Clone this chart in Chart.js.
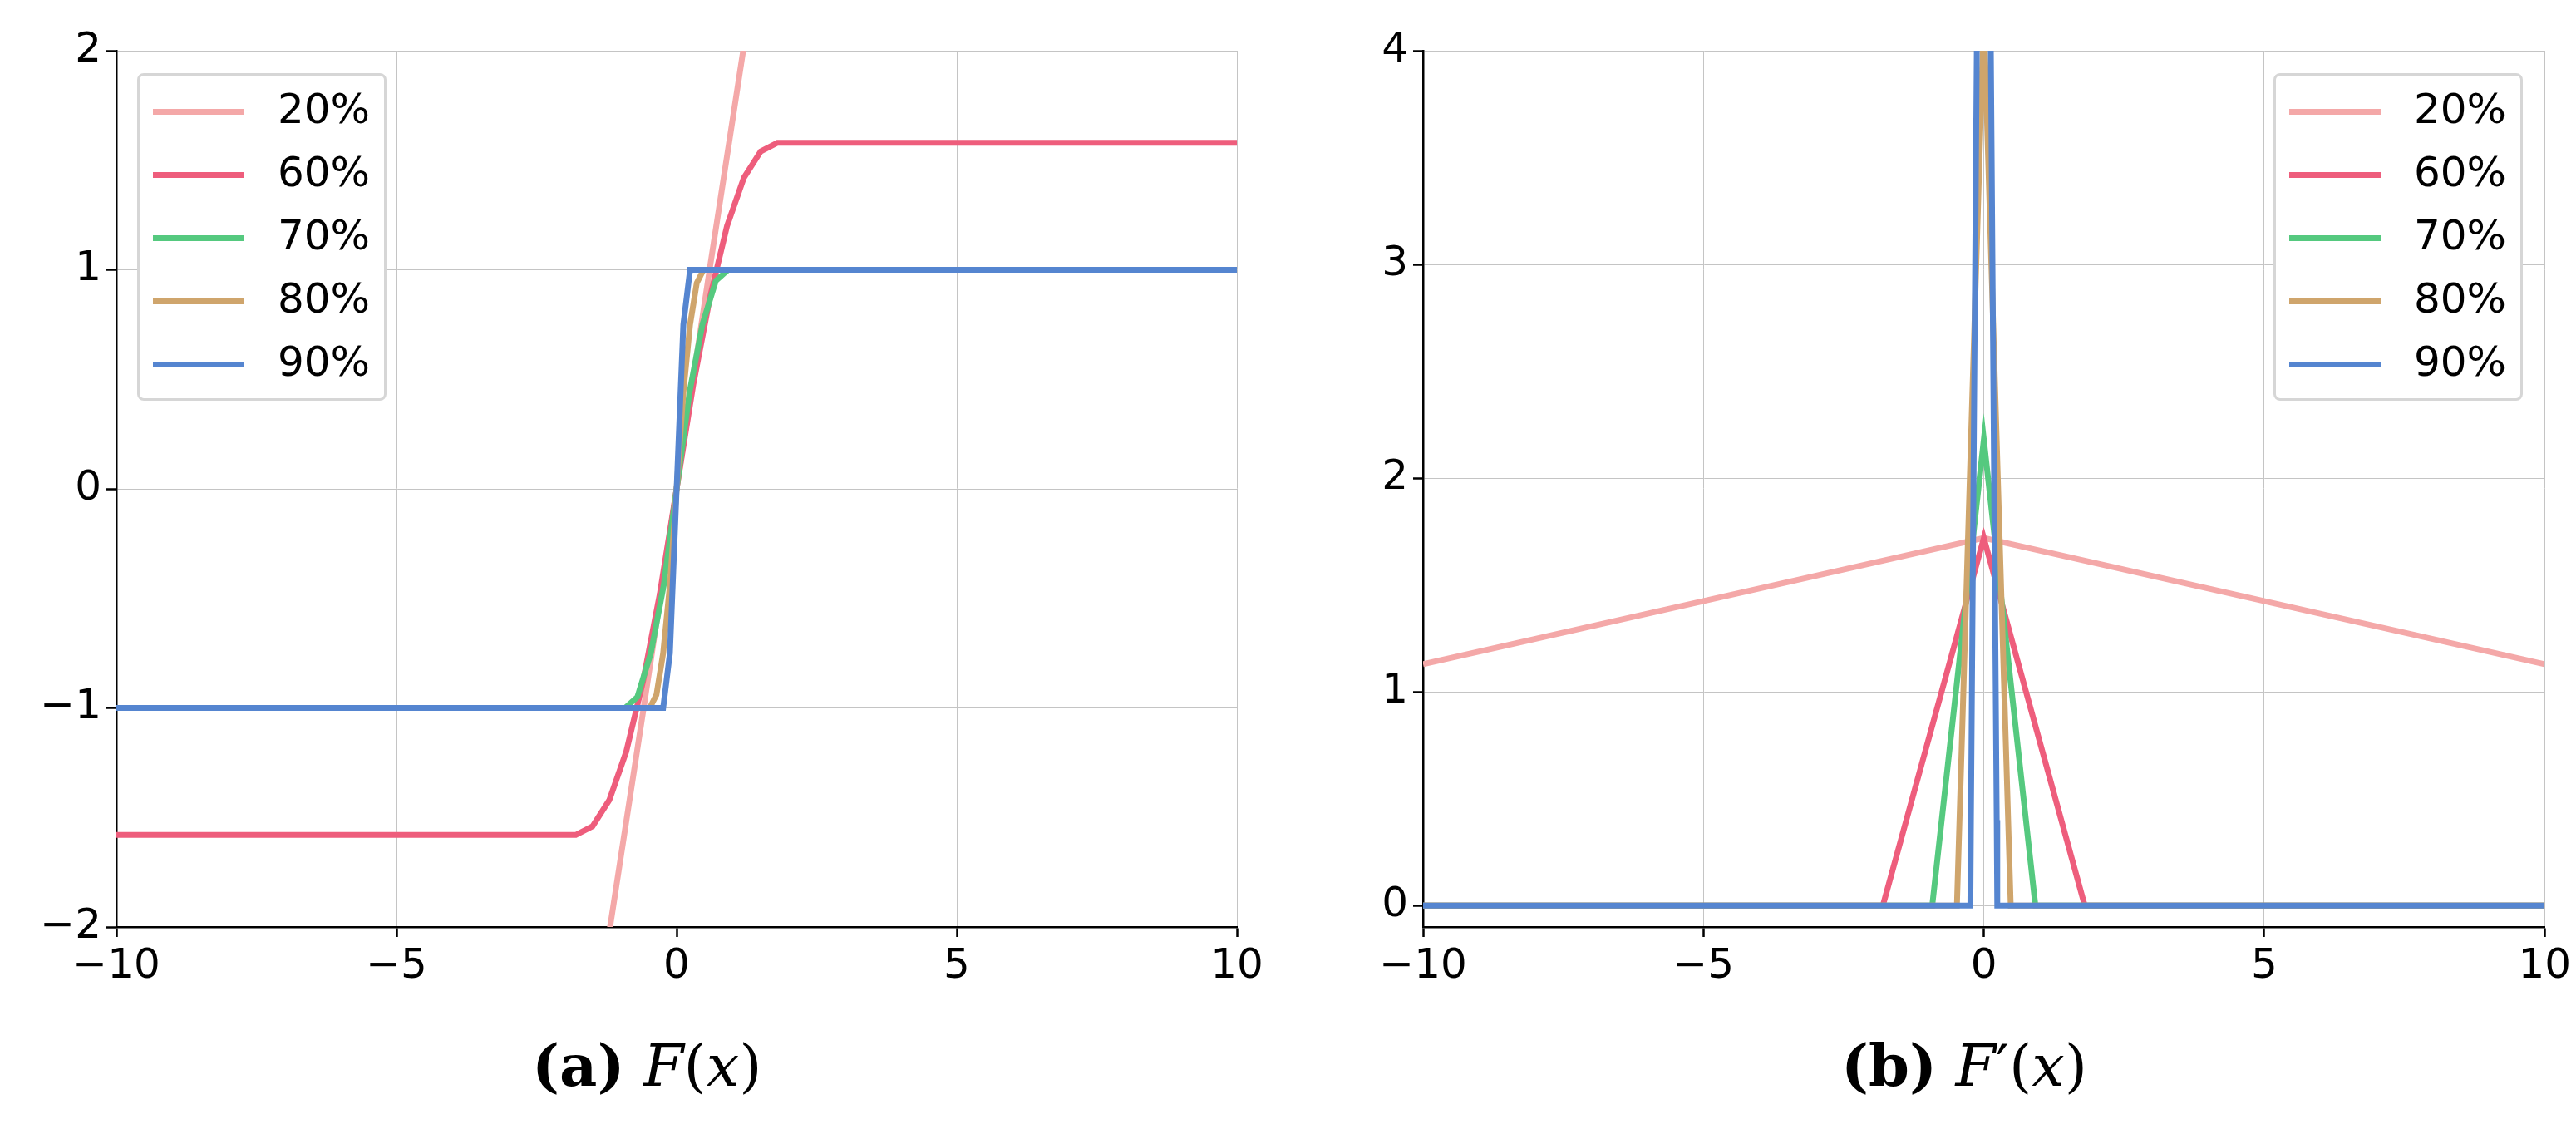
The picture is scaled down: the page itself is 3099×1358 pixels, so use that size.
<!DOCTYPE html>
<html>
<head>
<meta charset="utf-8">
<script src="https://cdn.jsdelivr.net/npm/chart.js@4.4.0/dist/chart.umd.min.js"></script>
<style>
body{margin:0;background:#fff;width:3099px;height:1358px;position:relative;overflow:hidden;font-family:"DejaVu Sans";}
.box{position:absolute;top:0;height:1200px;}
.legend{position:absolute;top:88px;width:300px;height:394px;border:3px solid #d6d6d6;border-radius:8px;background:#fff;box-sizing:border-box;}
.item{position:absolute;left:16px;height:40px;font-size:50px;line-height:40px;}
.item span{display:inline-block;width:110px;height:7px;vertical-align:middle;margin-right:40px;}
.cap{position:absolute;top:1240px;font-family:"DejaVu Serif","Liberation Serif";font-size:70px;}
</style>
</head>
<body>
<div class="box" style="left:0;width:1550px"><canvas id="chartA"></canvas></div>
<div class="box" style="left:1550px;width:1549px"><canvas id="chartB"></canvas></div>
<div class="legend" id="legendA" style="left:165px"></div>
<div class="legend" id="legendB" style="left:2735px"></div>
<div class="cap" style="left:640px"><b>(a)</b> <i>F</i>(<i>x</i>)</div>
<div class="cap" style="left:2215px"><b>(b)</b> <i>F</i>′(<i>x</i>)</div>
<script>
const labels = ['20%', '60%', '70%', '80%', '90%'];
const colors = ['#f4a8a8', '#ee5d7c', '#55c97f', '#cfa56c', '#5585d0'];

// F(x)
const fX20 = [-10, -5, -2, -1.2, -0.6, 0, 0.6, 1.2, 2, 5, 10];
const fY20 = [-14.3, -7.9, -3.32, -2.02, -1.02, 0, 1.02, 2.02, 3.32, 7.9, 14.3];
const fX60 = [-10, -1.8, -1.5, -1.2, -0.9, -0.6, -0.3, 0, 0.3, 0.6, 0.9, 1.2, 1.5, 1.8, 10];
const fY60 = [-1.58, -1.58, -1.54, -1.42, -1.2, -0.88, -0.48, 0, 0.48, 0.88, 1.2, 1.42, 1.54, 1.58, 1.58];
const fX70 = [-10, -0.92, -0.7, -0.46, -0.23, 0, 0.23, 0.46, 0.7, 0.92, 10];
const fY70 = [-1, -1, -0.95, -0.75, -0.44, 0, 0.44, 0.75, 0.95, 1, 1];
const fX80 = [-10, -0.48, -0.36, -0.24, -0.12, 0, 0.12, 0.24, 0.36, 0.48, 10];
const fY80 = [-1, -1, -0.94, -0.75, -0.44, 0, 0.44, 0.75, 0.94, 1, 1];
const fX90 = [-10, -0.24, -0.12, 0, 0.12, 0.24, 10];
const fY90 = [-1, -1, -0.75, 0, 0.75, 1, 1];

// F'(x)
const dX20 = [-10, 0, 10];
const dY20 = [1.13, 1.72, 1.13];
const dX60 = [-10, -1.8, 0, 1.8, 10];
const dY60 = [0, 0, 1.72, 0, 0];
const dX70 = [-10, -0.92, 0, 0.92, 10];
const dY70 = [0, 0, 2.18, 0, 0];
const dX80 = [-10, -0.48, 0, 0.48, 10];
const dY80 = [0, 0, 4.17, 0, 0];
const dX90 = [-10, -0.24, -0.23, 0, 0.23, 0.24, 10];
const dY90 = [0, 0, 0.4, 8.3, 0.4, 0, 0];

const xTicks = [-10, -5, 0, 5, 10];

function pts(xs, ys){
    return xs.map((x, i) => ({x: x, y: ys[i]}));
}

function fmt(v){
    return String(v).replace('-', '\u2212');
}

function makeDatasets(sets){
    return sets.map((s, i) => ({
        label: labels[i],
        data: pts(s[0], s[1]),
        borderColor: colors[i],
        borderWidth: 7,
        pointRadius: 0,
        tension: 0,
        order: labels.length - i
    }));
}

function axisOpts(min, max, ticks, fitSize, isX){
    return {
        type: 'linear',
        min: min,
        max: max,
        border: {color: '#000', width: 2.5},
        grid: {color: '#c4c4c4', lineWidth: 1, tickColor: '#000', tickLength: 12, tickWidth: 2.5},
        ticks: {color: '#000', font: {family: 'DejaVu Sans', size: 50}, padding: 6, maxRotation: 0, autoSkip: false, callback: v => fmt(v)},
        afterBuildTicks: axis => { axis.ticks = ticks.map(v => ({value: v})); },
        afterFit: axis => { if(isX) axis.height = fitSize; else axis.width = fitSize; }
    };
}

function makeChart(id, sets, yMin, yMax, yTicks, yWidth, padRight){
    return new Chart(document.getElementById(id), {
        type: 'line',
        data: {datasets: makeDatasets(sets)},
        options: {
            responsive: true,
            maintainAspectRatio: false,
            animation: false,
            layout: {padding: {top: 61, right: padRight, left: 0, bottom: 0}},
            plugins: {legend: {display: false}, tooltip: {enabled: false}},
            scales: {
                x: axisOpts(-10, 10, xTicks, 85, true),
                y: axisOpts(yMin, yMax, yTicks, yWidth, false)
            }
        }
    });
}

makeChart('chartA', [[fX20, fY20], [fX60, fY60], [fX70, fY70], [fX80, fY80], [fX90, fY90]], -2, 2, [-2, -1, 0, 1, 2], 140, 62);
makeChart('chartB', [[dX20, dY20], [dX60, dY60], [dX70, dY70], [dX80, dY80], [dX90, dY90]], -0.1, 4, [0, 1, 2, 3, 4], 162, 37);

function fillLegend(id){
    const el = document.getElementById(id);
    labels.forEach((l, i) => {
        const d = document.createElement('div');
        d.className = 'item';
        d.style.top = (20 + i * 76) + 'px';
        d.innerHTML = `<span style="background:${colors[i]}"></span>${l}`;
        el.appendChild(d);
    });
}
fillLegend('legendA');
fillLegend('legendB');
</script>
</body>
</html>
